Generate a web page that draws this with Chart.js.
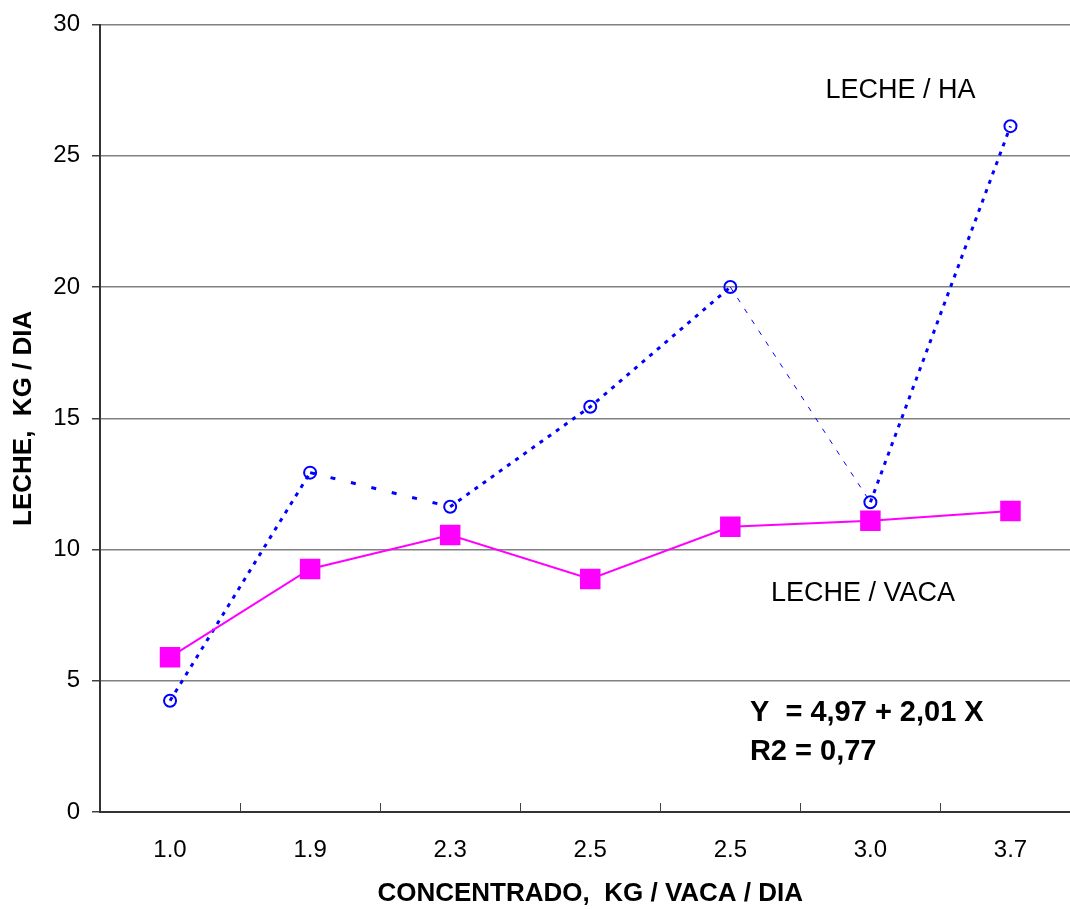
<!DOCTYPE html>
<html>
<head>
<meta charset="utf-8">
<script src="https://cdn.jsdelivr.net/npm/chart.js@4/dist/chart.umd.min.js"></script>
<style>
  html, body { margin: 0; padding: 0; background: #ffffff; overflow: hidden; }
  #wrap { width: 1070px; height: 909px; overflow: hidden; position: relative; }
  #plot { position: absolute; left: 0; top: 0; width: 1080px; height: 909px; }
  canvas { display: block; }
</style>
</head>
<body>
<div id="wrap"><div id="plot"><canvas id="c"></canvas></div></div>
<script>
// Concentrate fed (kg / cow / day) on the category axis
const concentrado = ['1.0', '1.9', '2.3', '2.5', '2.5', '3.0', '3.7'];
// Milk per hectare and milk per cow
const lecheHa   = [4.24, 12.93, 11.63, 15.44, 20.0, 11.8, 26.13];
const lecheVaca = [5.9, 9.26, 10.55, 8.88, 10.87, 11.1, 11.47];
// Value axis
const yMin = 0, yMax = 30, yStep = 5;
// Texts
const seriesNames = ['LECHE / HA', 'LECHE / VACA'];
const regression = ['Y  = 4,97 + 2,01 X', 'R2 = 0,77'];
const xTitle = 'CONCENTRADO,  KG / VACA / DIA';
const yTitle = 'LECHE,  KG / DIA';

const FONT = '"Liberation Sans", Arial, Helvetica, sans-serif';
const BLUE = '#0000ff';
const PINK = '#ff00ff';
const PLOT_RIGHT = 1080;   // right edge of the plot area (runs past the window)

// Text placed inside the plot, anchored in axis units (category index, value)
const notes = [
  { text: seriesNames[0], at: [4.68, 27.49], font: '27px ' + FONT },
  { text: seriesNames[1], at: [4.29, 8.34],  font: '27px ' + FONT },
  { text: regression[0],  at: [4.14, 3.79],  font: 'bold 29px ' + FONT },
  { text: regression[1],  at: [4.14, 2.27],  font: 'bold 29px ' + FONT }
];

// Short inward tick marks between categories, plus the free text
const decorations = {
  id: 'decorations',
  afterDatasetsDraw(chart) {
    const { ctx, scales: { x, y }, chartArea } = chart;
    ctx.save();
    ctx.strokeStyle = '#404040';
    ctx.lineWidth = 1;
    for (let i = 1; i < concentrado.length; i++) {
      const px = Math.round(x.getPixelForValue(i - 0.5)) + 0.5;
      ctx.beginPath();
      ctx.moveTo(px, chartArea.bottom);
      ctx.lineTo(px, chartArea.bottom - 9);
      ctx.stroke();
    }
    ctx.fillStyle = '#000000';
    ctx.textAlign = 'left';
    ctx.textBaseline = 'middle';
    notes.forEach(n => {
      ctx.font = n.font;
      ctx.fillText(n.text, x.getPixelForValue(n.at[0]), y.getPixelForValue(n.at[1]));
    });
    ctx.restore();
  }
};

// Dash pattern of the per-hectare line changes from segment to segment
const haDash = [[4, 6], [5, 16], [4, 6], [4, 6], [5, 8], [4, 6]];
const haWidth = [3, 3, 3, 3, 1, 3];

const chart = new Chart(document.getElementById('c'), {
  type: 'line',
  data: {
    labels: concentrado,
    datasets: [
      {
        label: seriesNames[1],
        data: lecheVaca,
        borderColor: PINK,
        backgroundColor: PINK,
        borderWidth: 2,
        pointStyle: 'rect',
        pointRadius: 14.5,
        pointBorderWidth: 0,
        tension: 0
      },
      {
        label: seriesNames[0],
        data: lecheHa,
        borderColor: BLUE,
        backgroundColor: 'rgba(0,0,0,0)',
        borderWidth: 3,
        borderDash: [4, 6],
        pointStyle: 'circle',
        pointRadius: 6,
        pointBorderWidth: 2,
        pointBorderColor: BLUE,
        pointBackgroundColor: 'rgba(0,0,0,0)',
        tension: 0,
        segment: {
          borderDash: c => haDash[c.p0DataIndex],
          borderWidth: c => haWidth[c.p0DataIndex]
        }
      }
    ]
  },
  options: {
    responsive: true,
    maintainAspectRatio: false,
    animation: false,
    devicePixelRatio: 1,
    layout: { padding: { top: 24, left: 0, right: 0, bottom: 0 } },
    plugins: { legend: { display: false }, tooltip: { enabled: false } },
    scales: {
      x: {
        type: 'category',
        offset: true,
        grid: { display: false, drawTicks: false },
        border: { display: true, color: '#333333', width: 2 },
        ticks: { color: '#000000', font: { family: FONT, size: 24 }, padding: 24, maxRotation: 0, autoSkip: false },
        title: { display: true, text: xTitle, color: '#000000', font: { family: FONT, size: 26, weight: 'bold' }, padding: { top: 0, bottom: 0 } },
        afterFit: s => { s.height = 97; s.paddingLeft = 0; s.paddingRight = 0; }
      },
      y: {
        min: yMin,
        max: yMax,
        grid: { color: '#808080', lineWidth: 1.5, tickColor: '#404040', tickLength: 8, drawTicks: true },
        border: { display: true, color: '#333333', width: 2 },
        ticks: { stepSize: yStep, color: '#000000', font: { family: FONT, size: 24, lineHeight: 1.05 }, padding: 12 },
        title: { display: true, text: yTitle, color: '#000000', font: { family: FONT, size: 26, weight: 'bold' }, padding: { top: 8, bottom: 0 } },
        afterFit: s => { s.width = 100; }
      }
    }
  },
  plugins: [decorations]
});

// Widen the canvas until the plot area reaches its intended right edge
const plotDiv = document.getElementById('plot');
for (let k = 0; k < 4; k++) {
  const gap = PLOT_RIGHT - chart.chartArea.right;
  if (Math.abs(gap) < 0.5) break;
  plotDiv.style.width = (plotDiv.offsetWidth + Math.round(gap)) + 'px';
  chart.resize();
}
</script>
</body>
</html>
